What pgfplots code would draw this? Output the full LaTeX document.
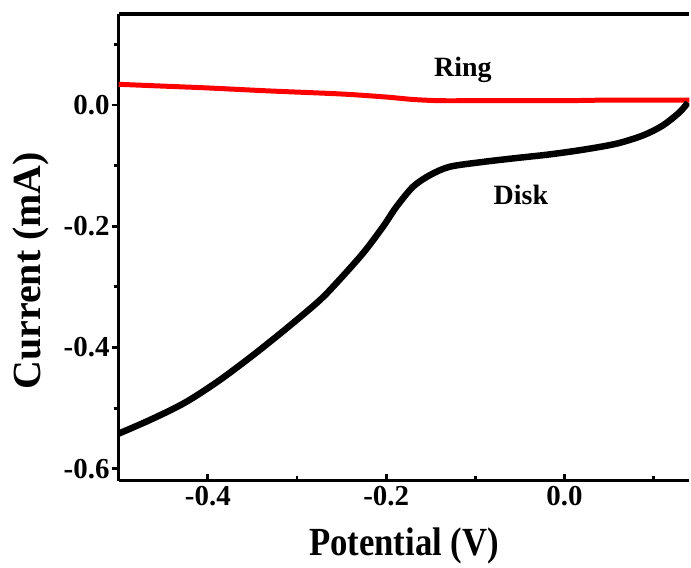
\documentclass[border=0pt]{standalone}
\usepackage{fontspec}
\setmainfont{Liberation Serif}
\usepackage{pgfplots}
\pgfplotsset{compat=1.18}
\usetikzlibrary{calc}

\begin{document}
\begin{tikzpicture}
\begin{axis}[
  scale only axis,
  width=572pt, height=468pt,
  xmin=-0.5, xmax=0.14,
  ymin=-0.62, ymax=0.15,
  axis x line*=box, axis y line*=left,
  axis line style={line width=3.2pt},
  xtick={-0.4,-0.2,0.0}, ytick={-0.6,-0.4,-0.2,0.0},
  minor xtick={-0.3,-0.1,0.1},
  minor ytick={-0.5,-0.3,-0.1,0.1},
  xtick pos=bottom, ytick pos=left,
  xtick align=inside, ytick align=outside,
  major tick length=7pt, minor tick length=5pt,
  every tick/.style={black, line width=2.8pt},
  tick label style={font=\bfseries\fontsize{29}{33}\selectfont},
  /pgf/number format/assume math mode=true,
  /pgf/number format/.cd, fixed, fixed zerofill, precision=1,
  /pgfplots/.cd,
  yticklabel style={inner sep=2pt},
  xticklabel style={inner sep=2pt, yshift=-3pt},
  xlabel={\scalebox{0.87}[1]{Potential (V)}},
  ylabel={Current (mA)},
  label style={font=\bfseries\fontsize{40}{44}\selectfont},
  xlabel style={at={(axis description cs:0.5,-0.1603)}, anchor=base},
  ylabel style={at={(axis description cs:-0.1364,0.45)}, anchor=base},
  clip=true,
]
% Ring current
\addplot[red, line width=5pt, smooth] coordinates {
  (-0.5,0.034) (-0.45,0.031) (-0.4,0.028) (-0.33,0.023) (-0.25,0.018)
  (-0.2,0.013) (-0.17,0.009) (-0.14,0.007) (-0.1,0.007) (-0.05,0.007)
  (0.0,0.007) (0.05,0.008) (0.1,0.008) (0.14,0.008)
};
% Disk current
\addplot[black, line width=6.5pt, smooth] coordinates {
  (-0.5,-0.542) (-0.4627,-0.518) (-0.4253,-0.4906)
  (-0.388,-0.4551) (-0.3506,-0.4141) (-0.3133,-0.3703) (-0.2759,-0.3239)
  (-0.2558,-0.2937) (-0.226,-0.2445) (-0.2036,-0.2008) (-0.1886,-0.168)
  (-0.170,-0.135) (-0.1513,-0.116) (-0.1289,-0.102) (-0.0915,-0.094)
  (-0.0541,-0.0876) (-0.0168,-0.0816) (0.0205,-0.0739) (0.0579,-0.064)
  (0.0877,-0.0504) (0.110,-0.034) (0.129,-0.012) (0.1383,0.004)
};
\node[anchor=base, font=\bfseries\fontsize{28}{32}\selectfont] at (axis cs:-0.114,0.0464) {Ring};
\node[anchor=base, font=\bfseries\fontsize{28}{32}\selectfont] at (axis cs:-0.049,-0.165) {Disk};
\end{axis}
\path ($(current axis.south west)+(-119pt,-82pt)$) rectangle ($(current axis.north east)+(0,14pt)$);
\end{tikzpicture}
\end{document}
